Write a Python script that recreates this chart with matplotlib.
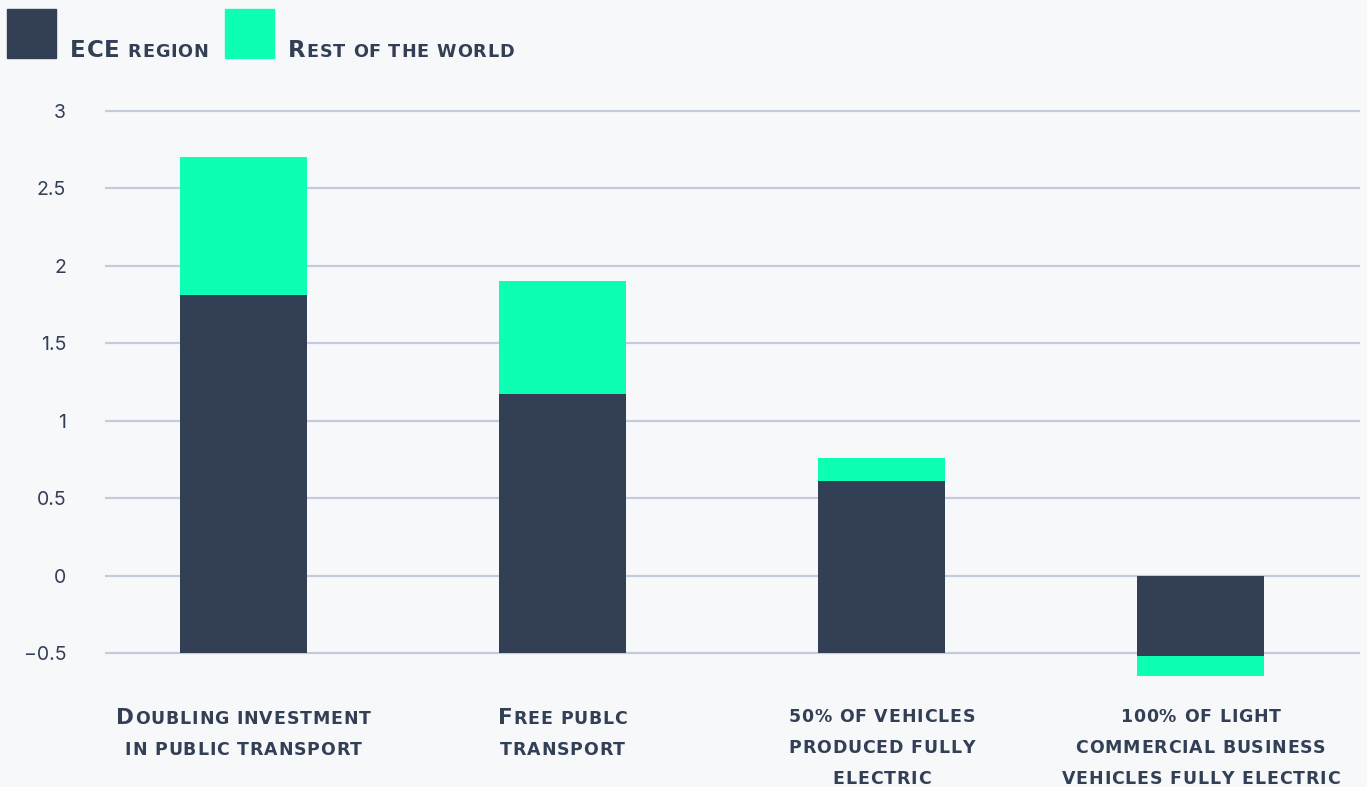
import numpy as np
import matplotlib
matplotlib.use('Agg')
import matplotlib.pyplot as plt
from matplotlib.offsetbox import TextArea, HPacker, VPacker, AnnotationBbox

# data
categories = ['Doubling investment\nin public transport',
              'Free publc\ntransport',
              '50% of vehicles\nproduced fully\nelectric',
              '100% of light\ncommercial business\nvehicles fully electric']
ece = [1.81, 1.17, 0.61, -0.52]
rest = [0.89, 0.73, 0.15, -0.13]
series_names = ['ECE region', 'Rest of the world']
yticks = [-0.5, 0, 0.5, 1, 1.5, 2, 2.5, 3]

DARK = '#323f55'
GREEN = '#0dffb4'
BG = '#f7f8fa'
GRID = '#c3ccda'
TXT = '#323f55'
LABEL_FONT = 'DejaVu Sans'


def smallcaps(text, big=15.5, small=12.5, track=0.6, linesep=9.2, color=TXT):
    # fake small caps: capitals big, everything else upper-cased and smaller,
    # one box per letter so we can add some letter spacing
    lines = []
    for line in text.split('\n'):
        boxes = [TextArea(ch.upper(), textprops=dict(
            fontsize=big if ch.isupper() else small, fontweight='bold',
            family=LABEL_FONT, color=color)) for ch in line]
        lines.append(HPacker(children=boxes, align='baseline', pad=0, sep=track))
    return VPacker(children=lines, align='center', pad=0, sep=linesep)


fig = plt.figure(figsize=(13.67, 7.87), dpi=100, facecolor=BG)
ax = fig.add_axes([105 / 1367, 0.1309, 1255 / 1367, 0.738])
ax.set_facecolor(BG)

x = np.arange(len(categories))
ylo = -0.5
base = np.array([ylo if v > 0 else 0 for v in ece])
ax.bar(x, np.array(ece) - base, bottom=base, width=0.4, color=DARK, zorder=3)
ax.bar(x, rest, bottom=ece, width=0.4, color=GREEN, zorder=3)

ax.set_xlim(-0.434, 3.5)
ax.set_ylim(-0.7, 3.05)
ax.set_yticks(yticks)
ax.set_yticklabels(['\u22120.5', '0', '0.5', '1', '1.5', '2', '2.5', '3'])
ax.tick_params(axis='y', length=0, pad=28, labelsize=14, labelcolor=TXT)
for lab in ax.get_yticklabels():
    lab.set_family('Inter')
ax.set_xticks([])
ax.grid(axis='y', color=GRID, linewidth=1.6, zorder=0)
for s in ax.spines.values():
    s.set_visible(False)

for xi, cat in zip(x, categories):
    ab = AnnotationBbox(smallcaps(cat), (xi, 79),
                        xycoords=('data', 'figure pixels'),
                        box_alignment=(0.5, 1), frameon=False, pad=0,
                        annotation_clip=False)
    ax.add_artist(ab)

# legend drawn by hand at the top left
for (name, col, sx) in zip(series_names, [DARK, GREEN], [7, 225]):
    fig.patches.append(plt.Rectangle((sx / 1367, 1 - 58 / 787), 49 / 1367, 49 / 787,
                                     transform=fig.transFigure, color=col))
    ab = AnnotationBbox(smallcaps(name, big=16.5, small=12.7), (sx + 63, 787 - 57),
                        xycoords='figure pixels', box_alignment=(0, 0.2),
                        frameon=False, pad=0)
    fig.add_artist(ab)

fig.savefig('out.png', dpi=100, facecolor=BG)
